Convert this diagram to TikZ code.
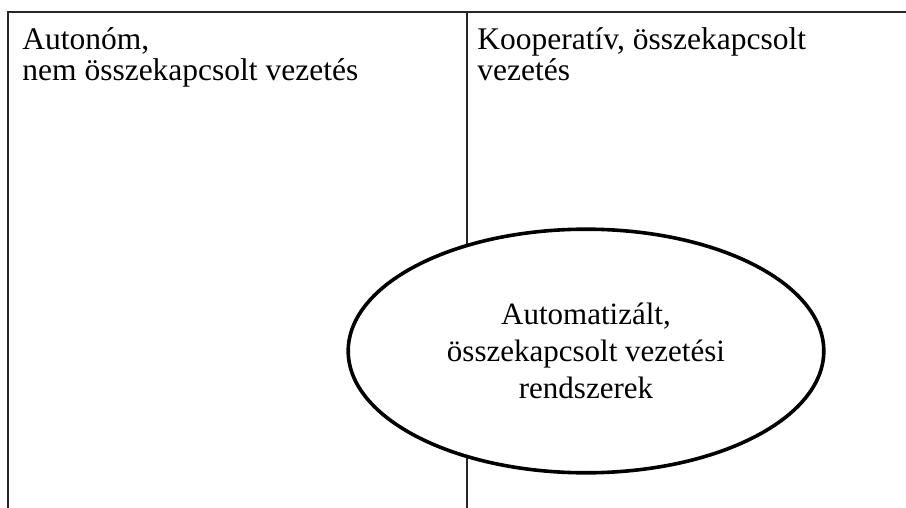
\documentclass[tikz,border=0pt]{standalone}
\usepackage{fontspec}
\setmainfont{Liberation Serif}
\usepackage{tikz}
\usetikzlibrary{shapes.geometric, positioning}

\begin{document}
\begin{tikzpicture}[x=0.5pt, y=-0.5pt,
    frame/.style={draw=black!85, line width=0.55pt},
    cornertext/.style={anchor=base west, inner sep=0pt, align=left, font=\fontsize{15.75}{15.5}\selectfont}]
    \useasboundingbox (0,0) rectangle (906,508);
    % frame of the two columns
    \coordinate (tl) at (8,12);
    \coordinate (tr) at (906,12);
    \coordinate (bl) at (8,508);
    \coordinate (mt) at (467,12);
    \coordinate (mb) at (467,508);
    \draw[frame] (bl) -- (tl) -- (tr);
    \draw[frame] (mt) -- (mb);
    \node[cornertext] (autonom) at (22,81) {Autonóm,\\nem összekapcsolt vezetés};
    \node[cornertext] (koop) at (477,81) {Kooperatív, összekapcsolt\\vezetés};
    % the overlapping field
    \node[ellipse, draw, fill=white, line width=1.8pt, minimum width=237.8pt, minimum height=121.8pt,
          inner sep=0pt, align=center, font=\fontsize{15.5}{18.5}\selectfont] (auto) at (586,351)
          {Automatizált,\\összekapcsolt vezetési\\rendszerek};
\end{tikzpicture}
\end{document}
